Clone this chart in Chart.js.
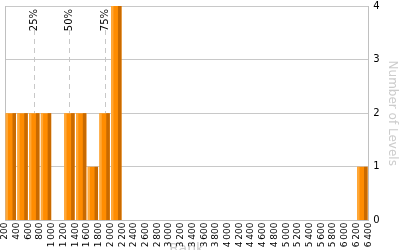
<!DOCTYPE html>
<html>
<head>
<meta charset="utf-8">
<script src="https://cdn.jsdelivr.net/npm/chart.js@4"></script>
<style>
  html, body { margin: 0; padding: 0; overflow: hidden; background: #fff; }
  #wrap { width: 400px; height: 263px; margin-top: -5px; }
</style>
</head>
<body>
<div id="wrap"><canvas id="myChart"></canvas></div>
<script>
// bin start of each rank bucket (width 200) and the number of levels in it
const binStarts = [200, 400, 600, 800, 1000, 1200, 1400, 1600, 1800, 2000, 2200, 2400, 2600, 2800, 3000, 3200,
  3400, 3600, 3800, 4000, 4200, 4400, 4600, 4800, 5000, 5200, 5400, 5600, 5800, 6000, 6200];
const levelCounts = [2, 2, 2, 2, 0, 2, 2, 1, 2, 4, 0, 0, 0, 0, 0, 0,
  0, 0, 0, 0, 0, 0, 0, 0, 0, 0, 0, 0, 0, 0, 1];
const percentileNames = ['25%', '50%', '75%'];
const percentileRanks = [700, 1290, 1900];
const binWidth = 200;

const points = binStarts.map((s, i) => ({x: s + binWidth / 2, y: levelCounts[i]}));

// light left edge + dark right edge on every bar
const barShade = {
  id: 'barShade',
  afterDatasetsDraw(chart) {
    const ctx = chart.ctx;
    chart.getDatasetMeta(0).data.forEach(bar => {
      if (!bar.height) return;
      const left = bar.x - bar.width / 2;
      const top = Math.min(bar.y, bar.base);
      const h = Math.abs(bar.base - bar.y);
      ctx.save();
      ctx.fillStyle = '#ffa838';
      ctx.fillRect(left, top, bar.width * 0.22, h);
      ctx.fillStyle = '#c96a00';
      ctx.fillRect(left + bar.width * 0.66, top, bar.width * 0.34, h);
      ctx.restore();
    });
  }
};

// dashed percentile markers with rotated labels, plus left frame line
const percentiles = {
  id: 'percentiles',
  beforeDatasetsDraw(chart) {
    const ctx = chart.ctx;
    const xs = chart.scales.x;
    const area = chart.chartArea;
    ctx.save();
    ctx.strokeStyle = '#c0c0c0';
    ctx.lineWidth = 1;
    ctx.beginPath();
    ctx.moveTo(Math.round(area.left) + 0.5, area.top);
    ctx.lineTo(Math.round(area.left) + 0.5, area.bottom);
    ctx.stroke();
    percentileRanks.forEach(r => {
      const px = Math.round(xs.getPixelForValue(r)) + 0.5;
      ctx.strokeStyle = '#c8c8c8';
      ctx.setLineDash([5, 4]);
      ctx.beginPath();
      ctx.moveTo(px, area.top + 24);
      ctx.lineTo(px, area.bottom);
      ctx.stroke();
    });
    ctx.restore();
  },
  afterDraw(chart) {
    const ctx = chart.ctx;
    const xs = chart.scales.x;
    const area = chart.chartArea;
    ctx.save();
    ctx.font = '10px "DejaVu Sans"';
    ctx.fillStyle = '#000';
    percentileRanks.forEach((r, i) => {
      const px = Math.round(xs.getPixelForValue(r)) + 0.5;
      ctx.save();
      ctx.translate(px, area.top + 3);
      ctx.rotate(-Math.PI / 2);
      ctx.textAlign = 'right';
      ctx.textBaseline = 'middle';
      ctx.fillText(percentileNames[i], 0, 0);
      ctx.restore();
    });
    ctx.restore();
  }
};

const config = {
  type: 'bar',
  data: {
    datasets: [{
      data: points,
      backgroundColor: '#ff8c00',
      borderWidth: 0,
      barPercentage: 0.88,
      categoryPercentage: 1
    }]
  },
  options: {
    responsive: true,
    maintainAspectRatio: false,
    animation: false,
    layout: {padding: {left: 5, top: 0, right: 0, bottom: 0}},
    plugins: {
      legend: {display: false},
      tooltip: {enabled: false}
    },
    scales: {
      x: {
        type: 'linear',
        min: 200,
        max: 6400,
        offset: false,
        border: {display: true, color: '#c0c0c0'},
        grid: {display: false, drawTicks: false},
        ticks: {
          stepSize: 200,
          autoSkip: false,
          maxRotation: 90,
          minRotation: 90,
          padding: 2,
          color: '#000',
          font: {family: 'DejaVu Sans', size: 9},
          callback: v => String(v).replace(/\B(?=(\d{3})+$)/g, '\u2009')
        },
        title: {
          display: true,
          text: 'Rank',
          color: '#cccccc',
          font: {family: 'DejaVu Sans', size: 14},
          padding: {top: -8, bottom: 0}
        }
      },
      y: {
        position: 'right',
        min: 0,
        max: 4,
        border: {display: true, color: '#c0c0c0'},
        grid: {color: '#c8c8c8', drawTicks: false},
        ticks: {
          stepSize: 1,
          padding: 5,
          color: '#000',
          font: {family: 'DejaVu Sans', size: 10}
        },
        title: {
          display: true,
          text: 'Number of Levels',
          color: '#cccccc',
          font: {family: 'DejaVu Sans', size: 12},
          padding: {top: 1, bottom: 0}
        }
      }
    }
  },
  plugins: [percentiles, barShade]
};

const myChart = new Chart(document.getElementById('myChart'), config);
</script>
</body>
</html>
